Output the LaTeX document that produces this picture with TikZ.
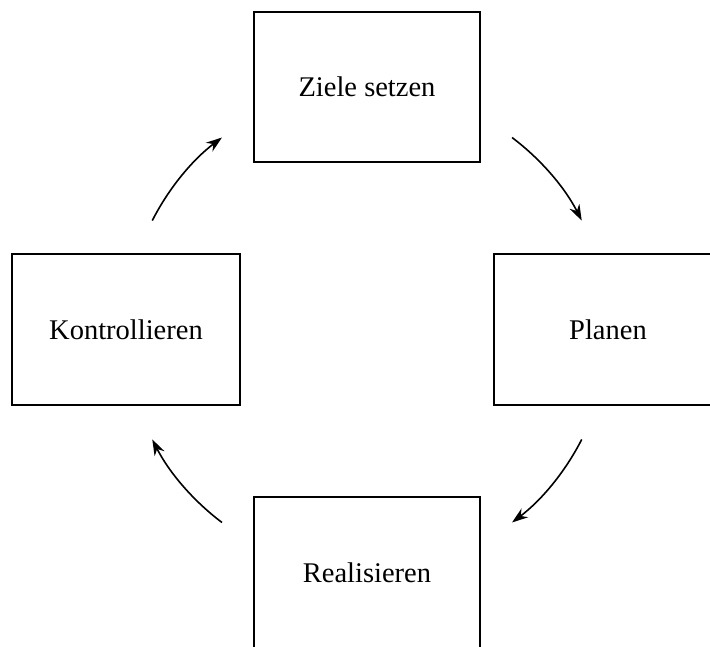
\documentclass[tikz,border=0pt]{standalone}
\usepackage{fontspec}
\setmainfont{Liberation Serif}
\usetikzlibrary{arrows.meta}
\begin{document}
\begin{tikzpicture}[x=1pt,y=1pt,
  stepbox/.style={draw=black, line width=2.8pt, minimum width=226pt, minimum height=150pt, inner sep=0pt, font=\fontsize{28.5}{34}\selectfont},
  cyc/.style={line width=1.6pt, -{Stealth[length=16pt,width=11pt]}}]
\useasboundingbox (0,0) rectangle (710,646);
\node[stepbox] (ziel) at (367,559) {Ziele setzen};
\node[stepbox, minimum width=228pt, minimum height=151pt] (kontr) at (126,316.5) {Kontrollieren};
\node[stepbox, minimum width=228pt, minimum height=151pt] (plan) at (608,316.5) {Planen};
\node[stepbox, minimum height=152pt] (real) at (367,73) {Realisieren};
\coordinate (c) at (367,316);
\draw[cyc] (c) ++(53:241) arc[start angle=53, end angle=27, radius=241];
\draw[cyc] (c) ++(-27:241) arc[start angle=-27, end angle=-53, radius=241];
\draw[cyc] (c) ++(233:241) arc[start angle=233, end angle=207, radius=241];
\draw[cyc] (c) ++(153:241) arc[start angle=153, end angle=127, radius=241];
\end{tikzpicture}
\end{document}
